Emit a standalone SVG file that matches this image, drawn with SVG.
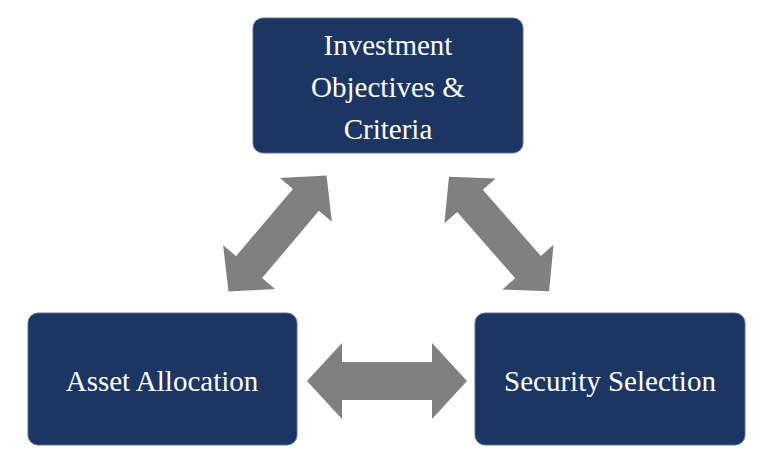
<svg xmlns="http://www.w3.org/2000/svg" width="762" height="468" viewBox="0 0 762 468">
<style>
.box{fill:#1c3664;stroke:#5a6f94;stroke-width:1}
.t{fill:#fff;font-family:"Liberation Serif",serif;font-size:29px;text-anchor:middle}
.arr{fill:#808080}
</style>
<defs>
<path id="da" d="M-80,0 L-45,-38 L-45,-19 L45,-19 L45,-38 L80,0 L45,38 L45,19 L-45,19 L-45,38 Z"/>
<path id="dd" d="M-76,0 L-44,-34 L-44,-17 L44,-17 L44,-34 L76,0 L44,34 L44,17 L-44,17 L-44,34 Z"/>
</defs>
<g id="connectors">
<use href="#da" class="arr" transform="translate(387,381)"/>
<use href="#dd" class="arr" transform="translate(277.5,233.5) rotate(-49.8)"/>
<use href="#dd" class="arr" transform="translate(499,234) rotate(48.8)"/>
</g>
<g id="n1"><rect class="box" x="253" y="18" width="270" height="135" rx="10"/>
<text class="t" x="388" y="55">Investment</text><text class="t" x="388" y="97">Objectives &amp;</text><text class="t" x="388" y="139">Criteria</text></g>
<g id="n2"><rect class="box" x="28" y="313" width="269" height="132" rx="10"/>
<text class="t" x="162" y="391">Asset Allocation</text></g>
<g id="n3"><rect class="box" x="475" y="313" width="270" height="132" rx="10"/>
<text class="t" x="610" y="391">Security Selection</text></g>
</svg>
